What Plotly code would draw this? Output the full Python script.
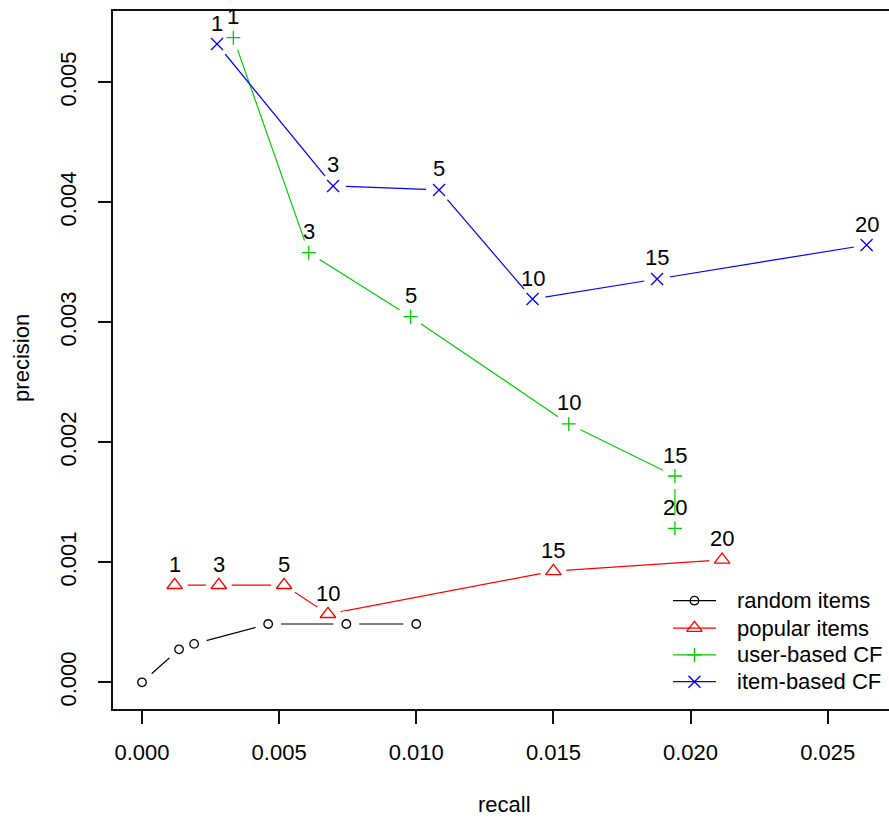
import plotly.graph_objects as go

# Top-N cutoffs used to label each point
cutoffs = [1, 3, 5, 10, 15, 20]

# Recall / precision for each recommender
random_recall = [0.0, 0.00135, 0.0019, 0.0046, 0.00745, 0.0100]
random_precision = [0.0, 0.000275, 0.00032, 0.000486, 0.000486, 0.000486]

popular_recall = [0.00119, 0.0028, 0.00518, 0.00678, 0.0150, 0.02115]
popular_precision = [0.00081, 0.00081, 0.00081, 0.000568, 0.000926, 0.001021]

ubcf_recall = [0.00333, 0.00608, 0.00979, 0.01556, 0.01943, 0.01943]
ubcf_precision = [0.005372, 0.00358, 0.003047, 0.002153, 0.001719, 0.001283]

ibcf_recall = [0.002735, 0.006966, 0.01083, 0.01424, 0.01878, 0.02642]
ibcf_precision = [0.005319, 0.004136, 0.004103, 0.003194, 0.003361, 0.003644]

x_ticks = [0.0, 0.005, 0.010, 0.015, 0.020, 0.025]
y_ticks = [0.0, 0.001, 0.002, 0.003, 0.004, 0.005]

FONT = "Liberation Sans, Arial, sans-serif"
FS = 22

series = [
    # name, x, y, colour, symbol, size, labelled
    ("popular items", popular_recall, popular_precision, "#FF0000", "triangle-up-open", 13.5, True),
    ("random items", random_recall, random_precision, "#000000", "circle-open", 8.5, False),
    ("user-based CF", ubcf_recall, ubcf_precision, "#00CD00", "cross-thin", 10, True),
    ("item-based CF", ibcf_recall, ibcf_precision, "#0000FF", "x-thin", 12, True),
]
legend_order = ["random items", "popular items", "user-based CF", "item-based CF"]

fig = go.Figure()

# connecting lines, each followed by white discs that open a gap round the points (type="b" look)
for name, xs, ys, col, sym, sz, lab in series:
    fig.add_trace(go.Scatter(x=xs, y=ys, mode="lines",
                             line=dict(color=col, width=1.2),
                             hoverinfo="skip", showlegend=False))
    fig.add_trace(go.Scatter(x=xs, y=ys, mode="markers",
                             marker=dict(symbol="circle", size=26, color="white",
                                         line=dict(width=0)),
                             hoverinfo="skip", showlegend=False))

# point symbols
for name, xs, ys, col, sym, sz, lab in series:
    fig.add_trace(go.Scatter(x=xs, y=ys, mode="markers", name=name,
                             marker=dict(symbol=sym, size=sz, color=col,
                                         line=dict(color=col, width=1.3)),
                             showlegend=False))

annotations = []
# cutoff labels above the points
for name, xs, ys, col, sym, sz, lab in series:
    if not lab:
        continue
    for n, xv, yv in zip(cutoffs, xs, ys):
        annotations.append(dict(x=xv, y=yv, xref="x", yref="y", text=str(n),
                                showarrow=False, yshift=21, yanchor="middle",
                                font=dict(family=FONT, size=FS, color="#000")))

# legend drawn on an overlay axis spanning the plot area in [0, 1] units
leg_x0, leg_x1, leg_xm, leg_text_x = 0.7216, 0.7771, 0.7493, 0.8015
leg_rows = [0.1552, 0.1160, 0.0774, 0.0391]
styles = {s[0]: s for s in series}
for name, row in zip(legend_order, leg_rows):
    _, _, _, col, sym, sz, _ = styles[name]
    fig.add_trace(go.Scatter(x=[leg_x0, leg_x1], y=[row, row], mode="lines",
                             line=dict(color=col, width=1.2), xaxis="x2", yaxis="y2",
                             hoverinfo="skip", showlegend=False))
    fig.add_trace(go.Scatter(x=[leg_xm], y=[row], mode="markers",
                             marker=dict(symbol=sym, size=sz, color=col,
                                         line=dict(color=col, width=1.3)),
                             xaxis="x2", yaxis="y2", hoverinfo="skip", showlegend=False))
    annotations.append(dict(x=leg_text_x, y=row, xref="x2", yref="y2", text=name,
                            showarrow=False, xanchor="left", yanchor="middle",
                            font=dict(family=FONT, size=FS, color="#000")))

# axis titles
annotations.append(dict(x=0.5045, y=-0.1375, xref="paper", yref="paper", text="recall",
                        showarrow=False, xanchor="center", yanchor="middle",
                        font=dict(family=FONT, size=FS, color="#000")))
annotations.append(dict(x=-0.1173, y=0.503, xref="paper", yref="paper", text="precision",
                        showarrow=False, textangle=-90, xanchor="center", yanchor="middle",
                        font=dict(family=FONT, size=FS, color="#000")))

axis_common = dict(showgrid=False, zeroline=False, showline=True, linecolor="#111",
                   linewidth=1.5, ticks="outside", ticklen=13, tickwidth=1.5,
                   tickcolor="#111", tickfont=dict(family=FONT, size=FS, color="#000"))

fig.update_layout(
    width=889, height=818,
    margin=dict(l=113, r=0, t=11, b=109),
    plot_bgcolor="white", paper_bgcolor="white",
    showlegend=False,
    annotations=annotations,
    xaxis=dict(range=[-0.001058, 0.027236], tickvals=x_ticks,
               ticktext=[f"{v:.3f}" for v in x_ticks], mirror=True,
               ticklabelstandoff=10, **axis_common),
    yaxis=dict(range=[-0.0002225, 0.005594], tickvals=y_ticks,
               ticktext=[f"{v:.3f}" for v in y_ticks], mirror=False,
               tickangle=-90, ticklabelstandoff=13, **axis_common),
    xaxis2=dict(range=[0, 1], overlaying="x", visible=False, fixedrange=True),
    yaxis2=dict(range=[0, 1], overlaying="y", visible=False, fixedrange=True),
)

fig.write_html("out.html")
